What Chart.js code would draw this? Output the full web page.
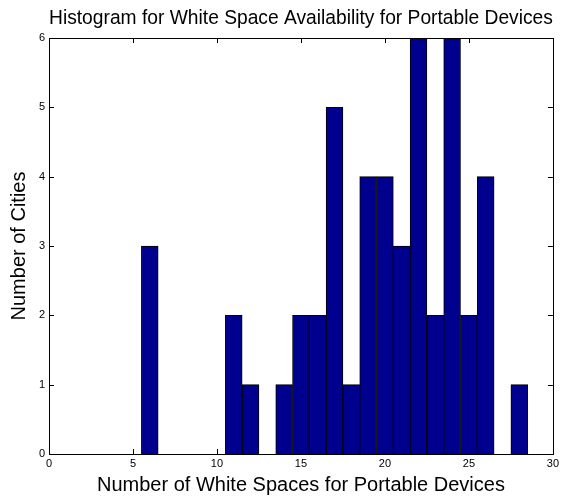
<!DOCTYPE html>
<html><head><meta charset="utf-8">
<script src="https://cdn.jsdelivr.net/npm/chart.js@4"></script>
<style>html,body{margin:0;padding:0;background:#fff}#wrap{width:562px;height:498px}</style>
</head><body><div id="wrap"><canvas id="c" width="562" height="498"></canvas></div>
<script>
const binCenters = [6, 11, 12, 14, 15, 16, 17, 18, 19, 20, 21, 22, 23, 24, 25, 26, 28];
const cityCounts = [3, 2, 1, 1, 2, 2, 5, 1, 4, 4, 3, 6, 2, 6, 2, 4, 1];
const xTickValues = [0, 5, 10, 15, 20, 25, 30];
const yTickValues = [0, 1, 2, 3, 4, 5, 6];
const chartTitle = 'Histogram for White Space Availability for Portable Devices';
const xTitle = 'Number of White Spaces for Portable Devices';
const yTitle = 'Number of Cities';

const FONT = '"Liberation Sans", Arial, Helvetica, sans-serif';

const boxPlugin = {
  id: 'matlabBox',
  afterDatasetsDraw(chart) {
    const {ctx, chartArea: a, scales: {x, y}} = chart;
    ctx.save();
    ctx.strokeStyle = '#000';
    ctx.lineWidth = 1;
    ctx.beginPath();
    xTickValues.forEach(v => {
      const px = Math.round(x.getPixelForValue(v)) + 0.5;
      ctx.moveTo(px, a.bottom); ctx.lineTo(px, a.bottom - 5);
      ctx.moveTo(px, a.top); ctx.lineTo(px, a.top + 5);
    });
    yTickValues.forEach(v => {
      const py = Math.round(y.getPixelForValue(v)) + 0.5;
      ctx.moveTo(a.left, py); ctx.lineTo(a.left + 5, py);
      ctx.moveTo(a.right, py); ctx.lineTo(a.right - 5, py);
    });
    ctx.stroke();
    ctx.strokeRect(Math.round(a.left) + 0.5, Math.round(a.top) + 0.5,
                   Math.round(a.right - a.left), Math.round(a.bottom - a.top));
    ctx.restore();
  }
};

new Chart(document.getElementById('c'), {
  type: 'bar',
  data: {
    datasets: [{
      data: binCenters.map((v, i) => ({x: v, y: cityCounts[i]})),
      backgroundColor: '#00008F',
      borderColor: '#000000',
      borderWidth: 1,
      barPercentage: 1,
      categoryPercentage: 1
    }]
  },
  options: {
    responsive: false,
    animation: false,
    devicePixelRatio: 1,
    layout: {padding: {left: 0, right: 7, top: 0, bottom: 0}},
    plugins: {
      legend: {display: false},
      tooltip: {enabled: false},
      title: {
        display: true, text: chartTitle, fullSize: false, color: '#000',
        font: {family: FONT, size: 20.5, weight: 'normal', lineHeight: 1.2},
        padding: {top: 6, bottom: 7.4}
      }
    },
    scales: {
      x: {
        type: 'linear', min: 0, max: 30, offset: false,
        grid: {display: false, drawTicks: false, drawOnChartArea: false},
        border: {display: false},
        afterBuildTicks: s => { s.ticks = xTickValues.map(v => ({value: v})); },
        ticks: {padding: 3, color: '#000', maxRotation: 0, autoSkip: false,
                font: {family: FONT, size: 11}},
        title: {display: true, text: xTitle, color: '#000',
                font: {family: FONT, size: 20, lineHeight: 1.2},
                padding: {top: 0, bottom: 1}},
        afterFit: s => { s.height = 44; }
      },
      y: {
        type: 'linear', min: 0, max: 6,
        grid: {display: false, drawTicks: false, drawOnChartArea: false},
        border: {display: false},
        afterBuildTicks: s => { s.ticks = yTickValues.map(v => ({value: v})); },
        ticks: {padding: 4, color: '#000', autoSkip: false,
                font: {family: FONT, size: 11}},
        title: {display: true, text: yTitle, color: '#000',
                font: {family: FONT, size: 20, lineHeight: 1.2},
                padding: {top: 7, bottom: 0}},
        afterFit: s => { s.width = 49; }
      }
    }
  },
  plugins: [boxPlugin]
});
</script>
</body></html>
